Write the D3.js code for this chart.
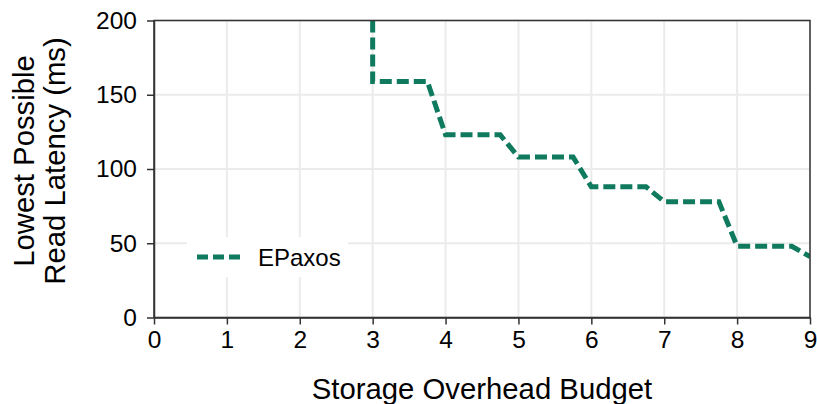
<!DOCTYPE html>
<html>
<head>
<meta charset="utf-8">
<script src="https://cdn.jsdelivr.net/npm/d3@7"></script>
<style>
  html, body { margin: 0; padding: 0; background: #fff; }
  svg { display: block; font-family: "Liberation Sans", Arial, Helvetica, sans-serif; }
</style>
</head>
<body>
<svg id="chart" width="817" height="404"></svg>
<script>
// Storage overhead budget (x) and the lowest achievable read latency in ms (y)
const budget  = [3, 3, 3.75, 4, 4.75, 5, 5.75, 6, 6.75, 7, 7.75, 8, 8.75, 9];
const latency = [200, 159, 159, 123, 123, 108, 108, 88, 88, 78, 78, 48, 48, 41];
const seriesName = "EPaxos";

const xTicks = [0, 1, 2, 3, 4, 5, 6, 7, 8, 9];
const yTicks = [0, 50, 100, 150, 200];
const xTitle = "Storage Overhead Budget";
const yTitleLines = ["Lowest Possible", "Read Latency (ms)"];

const lineColor = "#0f7a5e";
const gridColor = "#ebebeb";
const frameColor = "#333333";

const svg = d3.select("#chart");
const margin = { left: 154, right: 7, top: 20.5, bottom: 86.5 };
const W = 817, H = 404;
const x = d3.scaleLinear().domain([0, 9]).range([margin.left, W - margin.right]);
const y = d3.scaleLinear().domain([0, 200]).range([H - margin.bottom, margin.top]);

// grid
const grid = svg.append("g");
grid.selectAll("line.gx").data(xTicks).join("line")
  .attr("x1", d => x(d)).attr("x2", d => x(d))
  .attr("y1", y(0)).attr("y2", y(200))
  .attr("stroke", gridColor).attr("stroke-width", 2);
grid.selectAll("line.gy").data(yTicks).join("line")
  .attr("x1", x(0)).attr("x2", x(9))
  .attr("y1", d => y(d)).attr("y2", d => y(d))
  .attr("stroke", gridColor).attr("stroke-width", 2);

// clip region for the data line
svg.append("clipPath").attr("id", "plotclip").append("rect")
  .attr("x", x(0)).attr("y", y(200))
  .attr("width", x(9) - x(0)).attr("height", y(0) - y(200));

const pts = budget.map((b, i) => [b, latency[i]]);
const line = d3.line().x(d => x(d[0])).y(d => y(d[1]));
svg.append("path")
  .datum(pts)
  .attr("clip-path", "url(#plotclip)")
  .attr("d", line)
  .attr("fill", "none")
  .attr("stroke", lineColor)
  .attr("stroke-width", 5)
  .attr("stroke-dasharray", "12,5");

// frame
svg.append("rect")
  .attr("x", x(0)).attr("y", y(200))
  .attr("width", x(9) - x(0)).attr("height", y(0) - y(200))
  .attr("fill", "none").attr("stroke", frameColor).attr("stroke-width", 1.5);

// axes
const xAxis = svg.append("g")
  .attr("transform", `translate(0,${y(0)})`)
  .call(d3.axisBottom(x).tickValues(xTicks).tickFormat(d3.format("d")).tickSize(7).tickPadding(6).tickSizeOuter(0));
const yAxis = svg.append("g")
  .attr("transform", `translate(${x(0)},0)`)
  .call(d3.axisLeft(y).tickValues(yTicks).tickFormat(d3.format("d")).tickSize(7).tickPadding(10).tickSizeOuter(0));
[xAxis, yAxis].forEach(a => {
  a.select(".domain").attr("stroke", frameColor).attr("stroke-width", 1.5);
  a.selectAll(".tick line").attr("stroke", frameColor).attr("stroke-width", 1.5);
  a.selectAll(".tick text").attr("fill", "#000").style("font-size", "24.5px")
    .style("font-family", "'Liberation Sans', Arial, sans-serif");
});

// axis titles
svg.append("text")
  .attr("x", (x(0) + x(9)) / 2).attr("y", 399)
  .attr("text-anchor", "middle")
  .style("font-size", "29.3px")
  .text(xTitle);

const yt = svg.append("text")
  .attr("transform", `translate(34,161) rotate(-90)`)
  .attr("text-anchor", "middle")
  .style("font-size", "29.3px");
yt.selectAll("tspan").data(yTitleLines).join("tspan")
  .attr("x", 0).attr("dy", (d, i) => i === 0 ? 0 : 31)
  .text(d => d);

// legend
const lg = svg.append("g");
lg.append("rect")
  .attr("x", 187).attr("y", 237).attr("width", 161).attr("height", 40)
  .attr("fill", "#fff");
lg.append("line")
  .attr("x1", 197).attr("x2", 240).attr("y1", 257).attr("y2", 257)
  .attr("stroke", lineColor).attr("stroke-width", 5).attr("stroke-dasharray", "11,5");
lg.append("text")
  .attr("x", 258).attr("y", 266)
  .style("font-size", "24px")
  .text(seriesName);
</script>
</body>
</html>
